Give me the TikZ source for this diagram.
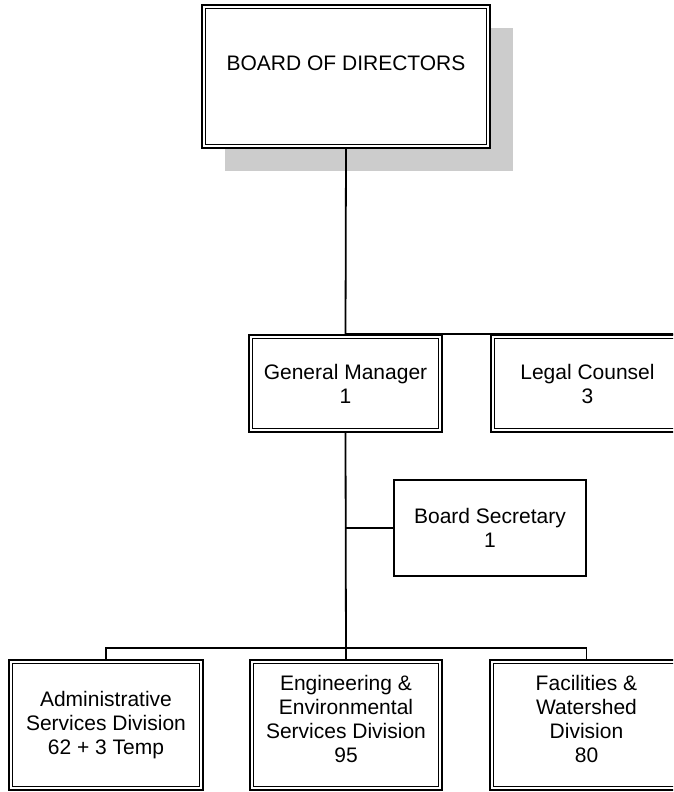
\documentclass[tikz,border=0pt]{standalone}
\usepackage{fontspec}
\setmainfont{Liberation Sans}
\usetikzlibrary{shadows}
\begin{document}
\begin{tikzpicture}[x=1pt,y=-1pt,
  every node/.style={font=\fontsize{21}{24}\selectfont, align=center, inner sep=0pt},
  dbox/.style={draw, line width=2pt, fill=white, minimum width=193pt, minimum height=97pt},
  sbox/.style={draw, line width=1.8pt, fill=white, minimum width=192pt, minimum height=96pt},
  conn/.style={line width=1.8pt},
  innerline/.style={line width=1.1pt}]
\useasboundingbox (0,0) rectangle (673,792);
\clip (0,0) rectangle (673,792);
\fill[white] (0,0) rectangle (673,792);
% boxes
\node[dbox, minimum width=288pt, minimum height=143pt,
      drop shadow={shadow xshift=23pt, shadow yshift=-23pt, fill=black!20, opacity=1}]
      (board) at (346,76.5) {};
\node (boardtxt) at (346,63) {BOARD OF DIRECTORS};
\node[dbox] (gm) at (345.5,383.5) {General Manager\\1};
\node[dbox] (legal) at (587.5,383.5) {Legal Counsel\\3};
\node[sbox] (sec) at (490,528) {Board Secretary\\1};
\node[dbox, minimum width=194pt, minimum height=130pt] (admin) at (106,725) {Administrative\\Services Division\\62 + 3 Temp};
\node[dbox, minimum width=192pt, minimum height=130pt, text depth=12pt] (eng) at (346,725) {Engineering \&\\Environmental\\Services Division\\95};
\node[dbox, minimum width=193pt, minimum height=130pt, text depth=12pt] (fac) at (586.5,725) {Facilities \&\\Watershed\\Division\\80};
% inner borders
\foreach \n in {board,gm,legal,admin,eng,fac}
  \draw[innerline] ([shift={(4.5,4.5)}]\n.north west) rectangle ([shift={(-4.5,-4.5)}]\n.south east);
% connectors
\coordinate (bus) at (346,648);
\draw[conn] (board.south) -- (gm.north);
\draw[conn] (gm.north) -- (legal.north east);
\draw[conn] (gm.south) -- (eng.north);
\draw[conn] (sec.west) -- (sec.west -| gm.south);
\draw[conn] (admin.north) -- (admin.north |- bus) -- (fac.north |- bus) -- (fac.north);
\end{tikzpicture}
\end{document}
